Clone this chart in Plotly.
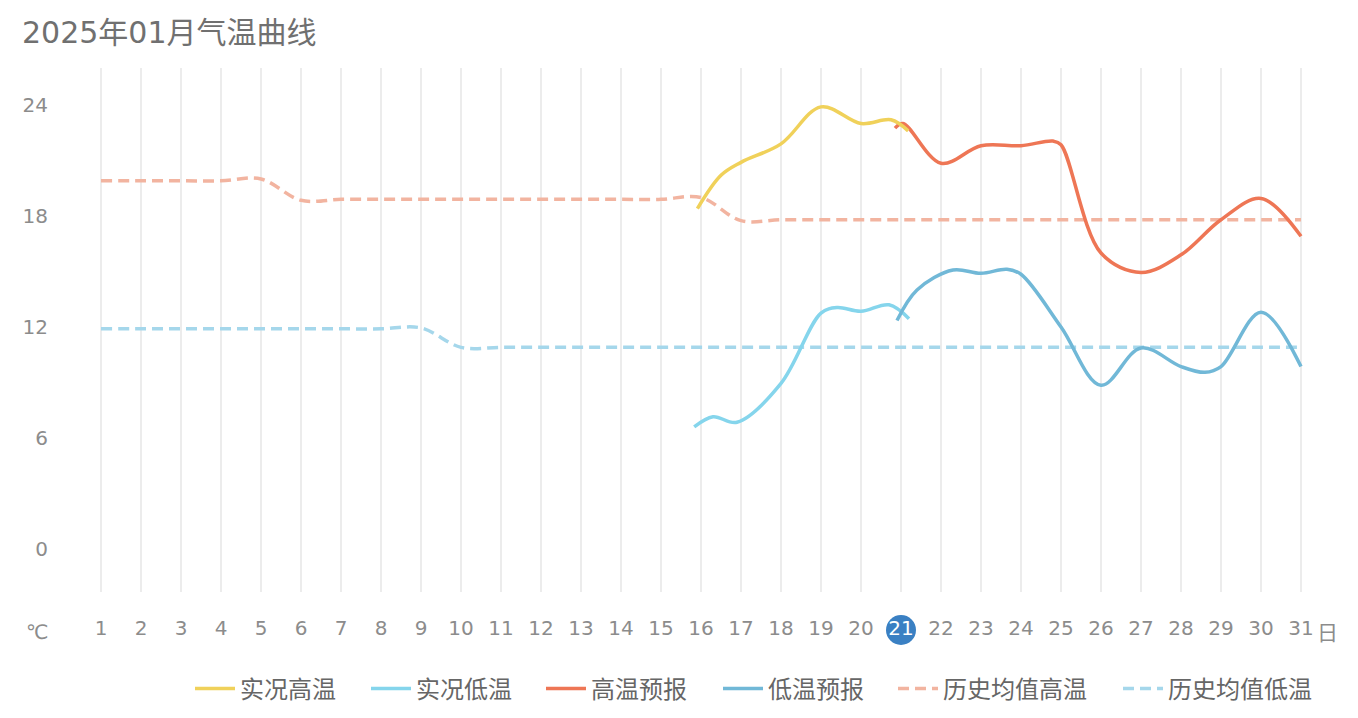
import plotly.graph_objects as go

# ---------------- data ----------------
days = list(range(1, 32))
tick_labels = [str(d) for d in days]
today = 21

hist_high = [19.9, 19.9, 19.9, 19.9, 20.0, 18.85, 18.9, 18.9, 18.9, 18.9,
             18.9, 18.9, 18.9, 18.9, 18.9, 19.0, 17.75, 17.8, 17.8, 17.8,
             17.8, 17.8, 17.8, 17.8, 17.8, 17.8, 17.8, 17.8, 17.8, 17.8, 17.8]
hist_low = [11.9, 11.9, 11.9, 11.9, 11.9, 11.9, 11.9, 11.9, 11.95, 10.9,
            10.9, 10.9, 10.9, 10.9, 10.9, 10.9, 10.9, 10.9, 10.9, 10.9,
            10.9, 10.9, 10.9, 10.9, 10.9, 10.9, 10.9, 10.9, 10.9, 10.9, 10.9]

obs_high_x = [15.91, 16.5, 17, 18, 19, 20, 20.75, 21.18]
obs_high_y = [18.4, 20.2, 20.9, 21.9, 23.9, 23.0, 23.2, 22.6]

obs_low_x = [15.83, 16.3, 16.9, 18, 19, 19.4, 20, 20.7, 21.2]
obs_low_y = [6.6, 7.15, 6.85, 8.95, 12.75, 13.05, 12.85, 13.2, 12.45]

fc_high_x = [20.85, 21.05, 22, 23, 24, 24.8, 25, 26, 27, 28, 29, 30, 31]
fc_high_y = [22.75, 23.0, 20.85, 21.8, 21.8, 22.05, 21.85, 16.0, 14.95, 15.9, 17.8, 18.95, 16.9]

fc_low_x = [20.9, 21.4, 22.3, 23, 23.65, 24, 25, 26, 27, 28, 28.6, 29, 30, 31]
fc_low_y = [12.35, 14.0, 15.08, 14.9, 15.12, 14.85, 12.0, 8.85, 10.87, 9.86, 9.55, 9.86, 12.8, 9.86]

names = ["实况高温", "实况低温", "高温预报", "低温预报", "历史均值高温", "历史均值低温"]
colors = ["#F0D15A", "#85D5EC", "#EE7655", "#71B8D7", "#F2B4A0", "#A5D7EB"]

FONT = "DejaVu Sans, Noto Sans CJK SC, sans-serif"

# figure geometry (the page adds an 8px body margin)
W, H = 1350, 710
L, R, T, B = 53, 17, 60, 126
OFF = 8
pw, ph = W - L - R, H - T - B
xmin, xmax = 0, 32


def px(page_x):
    return (page_x - OFF - L) / pw


def py(page_y):
    return ((H - B) - (page_y - OFF)) / ph


fig = go.Figure()
legend_ids = ["legend", "legend2", "legend3", "legend4", "legend5", "legend6"]


def add(x, y, i, dash=None):
    fig.add_trace(go.Scatter(
        x=x, y=y, mode="lines", name=names[i], legend=legend_ids[i],
        line=dict(color=colors[i], width=3.5, shape="spline", smoothing=1.0,
                  dash=dash if dash else "solid"),
        hoverinfo="skip"))


add(days, hist_high, 4, "11px,6px")
add(days, hist_low, 5, "11px,6px")
add(obs_low_x, obs_low_y, 1)
add(fc_low_x, fc_low_y, 3)
add(fc_high_x, fc_high_y, 2)
add(obs_high_x, obs_high_y, 0)

ticktext = [("<span style='color:white'>%s</span>" % t) if d == today else t
            for d, t in zip(days, tick_labels)]

fig.update_xaxes(
    range=[xmin, xmax], tickmode="array", tickvals=days, ticktext=ticktext,
    showgrid=True, gridcolor="#ECECEC", gridwidth=2, zeroline=False,
    showline=False, ticks="", ticklabelstandoff=22,
    tickfont=dict(family=FONT, size=20, color="#8C8C8C"), fixedrange=True)
fig.update_yaxes(
    range=[-2.324, 26], tickmode="array", tickvals=[0, 6, 12, 18, 24],
    showgrid=False, zeroline=False, showline=False, ticks="",
    ticklabelstandoff=12,
    tickfont=dict(family=FONT, size=20, color="#8C8C8C"), fixedrange=True)

fig.add_shape(type="circle", xref="paper", yref="paper",
              xsizemode="pixel", ysizemode="pixel",
              xanchor=(today - xmin) / (xmax - xmin), yanchor=py(630),
              x0=-15, x1=15, y0=-15, y1=15,
              fillcolor="#3A80C3", line=dict(width=0), layer="below")

fig.add_annotation(text="℃", xref="paper", yref="paper",
                   x=px(37), y=py(632), showarrow=False,
                   xanchor="center", yanchor="middle",
                   font=dict(family=FONT, size=20, color="#8C8C8C"))
fig.add_annotation(text="日", xref="paper", yref="paper",
                   x=px(1327), y=py(633), showarrow=False,
                   xanchor="center", yanchor="middle",
                   font=dict(family=FONT, size=21, color="#8C8C8C"))

# legend entries positioned individually (icon left edges in page pixels)
icon_left = [194, 370, 545, 722, 897, 1122]
legend_cfg = {}
for i, lid in enumerate(legend_ids):
    legend_cfg[lid] = dict(
        orientation="h", xref="container", yref="container",
        x=(icon_left[i] - OFF - 4) / W, xanchor="left",
        y=1 - (689 - OFF) / H, yanchor="middle",
        font=dict(family=FONT, size=24, color="#666666"),
        bgcolor="rgba(0,0,0,0)", itemwidth=40)

fig.update_layout(
    width=W, height=H,
    margin=dict(l=L, r=R, t=T, b=B),
    paper_bgcolor="white", plot_bgcolor="white",
    title=dict(text="2025年01月气温曲线", x=(22 - OFF) / W, xanchor="left",
               y=1 - (32 - OFF) / H, yanchor="middle", yref="container",
               font=dict(family=FONT, size=30, color="#707070")),
    showlegend=True,
    **legend_cfg,
)

fig.write_html("out.html")
